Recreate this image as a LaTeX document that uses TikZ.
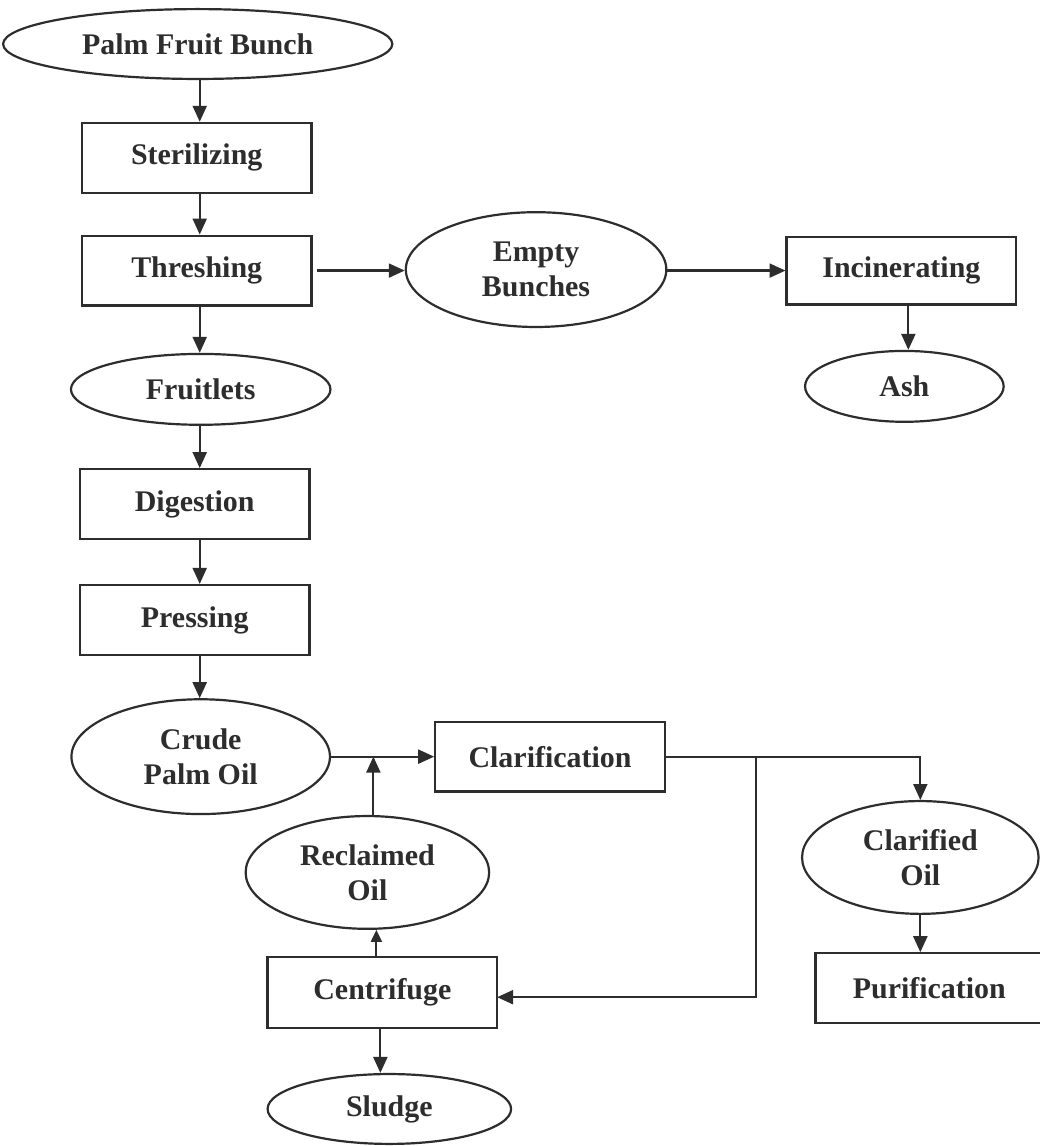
\documentclass[tikz,border=0pt]{standalone}
\usepackage{fontspec}
\setmainfont{Liberation Serif}
\usetikzlibrary{shapes.geometric,arrows.meta,calc}
\definecolor{ink}{RGB}{45,45,45}
\begin{document}
\begin{tikzpicture}[x=0.5pt,y=-0.5pt,
  every path/.style={line width=1.1pt, draw=ink},
  lbl/.style={text=ink, align=center, inner sep=0pt, font=\fontsize{15}{17.5}\selectfont\bfseries},
  stepbox/.style={lbl, draw=ink, rectangle, minimum width=115pt, minimum height=35pt},
  oval/.style={lbl, draw=ink, ellipse},
  arr/.style={-{Triangle[length=8pt,width=7pt]}, draw=ink},
  sarr/.style={-{Triangle[length=6pt,width=5.5pt]}, draw=ink}]
\useasboundingbox (0,0) rectangle (1039,1146);
\fill[white] (0,0) rectangle (1039,1146);
% nodes
\node[oval, minimum width=195pt, minimum height=35pt] (palm) at (197,43) {Palm Fruit Bunch};
\node[stepbox] (ster) at (196,157) {Sterilizing};
\node[stepbox] (thr) at (196,270) {Threshing};
\node[oval, minimum width=130pt, minimum height=35.5pt] (fruit) at (200,389) {Fruitlets};
\node[stepbox] (dig) at (194,504) {Digestion};
\node[stepbox] (press) at (194,620) {Pressing};
\node[oval, minimum width=129.5pt, minimum height=57.5pt] (crude) at (200,757) {Crude\\Palm Oil};
\node[stepbox] (clar) at (550,757) {Clarification};
\node[oval, minimum width=122pt, minimum height=56.5pt] (recl) at (367,873) {Reclaimed\\Oil};
\node[stepbox, minimum height=35.5pt] (centr) at (382,993) {Centrifuge};
\node[oval, minimum width=122pt, minimum height=35pt] (sludge) at (389,1110) {Sludge};
\node[oval, minimum width=130.5pt, minimum height=57.5pt] (empty) at (536,269) {Empty\\Bunches};
\node[stepbox, minimum height=34pt] (incin) at (902,270) {Incinerating};
\node[oval, minimum width=99.5pt, minimum height=35.5pt] (ash) at (905,386) {Ash};
\node[oval, minimum width=118.5pt, minimum height=56.5pt] (clarified) at (921,858) {Clarified\\Oil};
\node[stepbox, minimum width=114pt] (purif) at (930,989) {Purification};
% helper coordinates
\coordinate (colx) at (199,0);
\coordinate (j) at (373,757);
\coordinate (b) at (756,757);
\coordinate (ax) at (909,0);
\coordinate (cx) at (376,0);
\coordinate (sx) at (380,0);
\coordinate (centin) at (497,998);
% connectors
\draw[arr] (palm.south -| colx) -- (ster.north -| colx);
\draw[arr] (ster.south -| colx) -- (thr.north -| colx);
\draw[arr] (thr.south -| colx) -- (fruit.north -| colx);
\draw[arr] (fruit.south -| colx) -- (dig.north -| colx);
\draw[arr] (dig.south -| colx) -- (press.north -| colx);
\draw[arr] (press.south -| colx) -- (crude.north -| colx);
\draw[arr] ([xshift=2pt]thr.east) -- (thr.east -| empty.west);
\draw[arr] (empty.east |- incin.west) -- (incin.west);
\draw[arr] (incin.south -| ax) -- (ash.north -| ax);
\draw[arr] (crude.east) -- (clar.west);
\draw[arr] (recl.north -| j) -- (j);
\draw[sarr] (centr.north -| cx) -- (recl.south -| cx);
\draw[arr] (centr.south -| sx) -- (sludge.north -| sx);
\draw[arr] (clar.east) -| (clarified.north);
\draw[arr] (b) |- (centin);
\draw[arr] (clarified.south) -- (clarified.south |- purif.north);
\end{tikzpicture}
\end{document}
